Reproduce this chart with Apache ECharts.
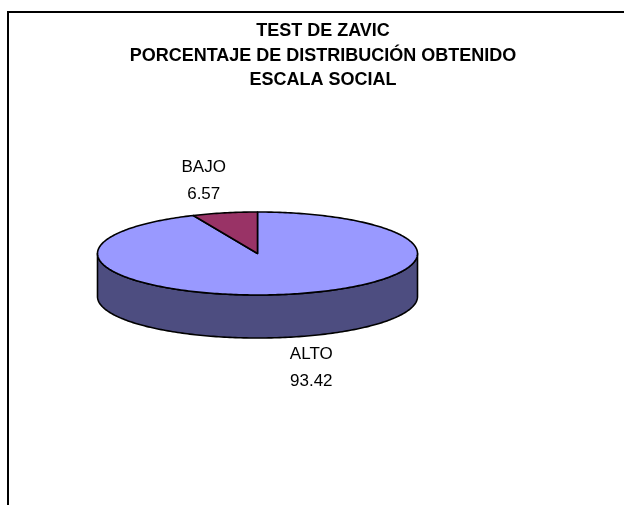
<!DOCTYPE html>
<html>
<head>
<meta charset="utf-8">
<script src="https://cdn.jsdelivr.net/npm/echarts@6/dist/echarts.min.js"></script>
<style>
  html, body { margin: 0; padding: 0; background: #ffffff; }
  #chart { width: 624px; height: 505px; }
</style>
</head>
<body>
<div id="chart"></div>
<script>
// Test de Zavic - escala social: distribution by level
const categories = ['ALTO', 'BAJO'];
const values = [93.42, 6.57];
const titleLines = ['TEST DE ZAVIC', 'PORCENTAJE DE DISTRIBUCIÓN OBTENIDO', 'ESCALA SOCIAL'];

// Colours: top face and darker extruded side for each slice
const topColors = ['#9999FF', '#993366'];
const sideColors = ['#4D4D80', '#4D1A33'];

// 3D pie geometry (ellipse for the top face, depth for the rim)
const CX = 257.5, CY = 253.5, RX = 160, RY = 41.5, DEPTH = 43;
const FONT = '"Liberation Sans", Arial, sans-serif';

const total = values.reduce((a, b) => a + b, 0);
const startAngles = [];
(function () {
  let acc = 0;
  values.forEach(v => { startAngles.push(acc / total * 360); acc += v; });
})();

// angle in degrees, clockwise from 12 o'clock
function pt(deg, dy) {
  const r = deg * Math.PI / 180;
  return [CX + RX * Math.sin(r), CY - RY * Math.cos(r) + (dy || 0)];
}
function arc(a, b, dy) {
  const n = Math.max(2, Math.ceil(Math.abs(b - a)));
  const pts = [];
  for (let i = 0; i <= n; i++) pts.push(pt(a + (b - a) * i / n, dy));
  return pts;
}
function sliceRange(idx, api) {
  const a = startAngles[idx];
  return [a, a + api.value(0) / total * 360];
}

const edge = { stroke: '#000000', lineWidth: 1.6, lineJoin: 'round' };

const chart = echarts.init(document.getElementById('chart'), null, { renderer: 'canvas' });

chart.setOption({
  backgroundColor: '#ffffff',
  animation: false,
  graphic: [
    {
      type: 'polyline',
      silent: true,
      shape: { points: [[8, 505], [8, 12], [624, 12]] },
      style: { stroke: '#000000', lineWidth: 2, fill: null }
    },
    {
      type: 'text',
      silent: true,
      x: 323,
      y: 19,
      style: {
        text: titleLines.join('\n'),
        font: 'bold 18px ' + FONT,
        lineHeight: 24.5,
        align: 'center',
        verticalAlign: 'top',
        fill: '#000000'
      }
    }
  ],
  series: [
    {
      // extruded rim (front half only)
      type: 'custom',
      coordinateSystem: 'none',
      silent: true,
      z: 1,
      data: values,
      renderItem: function (params, api) {
        const [a, b] = sliceRange(params.dataIndex, api);
        const s = Math.max(a, 90), e = Math.min(b, 270);
        if (s >= e) return { type: 'group', children: [] };
        const pts = arc(s, e, 0).concat(arc(s, e, DEPTH).reverse());
        return {
          type: 'polygon',
          shape: { points: pts },
          style: Object.assign({ fill: sideColors[params.dataIndex] }, edge)
        };
      }
    },
    {
      // top face and outside labels
      type: 'custom',
      coordinateSystem: 'none',
      silent: true,
      z: 2,
      data: values,
      renderItem: function (params, api) {
        const i = params.dataIndex;
        const [a, b] = sliceRange(i, api);
        const pts = [[CX, CY]].concat(arc(a, b, 0));
        const mid = (a + b) / 2 * Math.PI / 180;
        const front = Math.cos(mid) < 0;
        const lx = CX + RX * 1.64 * Math.sin(mid);
        const ly = CY - RY * 1.79 * Math.cos(mid) + (front ? DEPTH - 1 : 0);
        return {
          type: 'group',
          children: [
            {
              type: 'polygon',
              shape: { points: pts },
              style: Object.assign({ fill: topColors[i] }, edge)
            },
            {
              type: 'text',
              x: lx,
              y: ly,
              style: {
                text: categories[i] + '\n' + api.value(0),
                font: '17px ' + FONT,
                lineHeight: 27,
                align: 'center',
                verticalAlign: 'middle',
                fill: '#000000'
              }
            }
          ]
        };
      }
    }
  ]
});
</script>
</body>
</html>
